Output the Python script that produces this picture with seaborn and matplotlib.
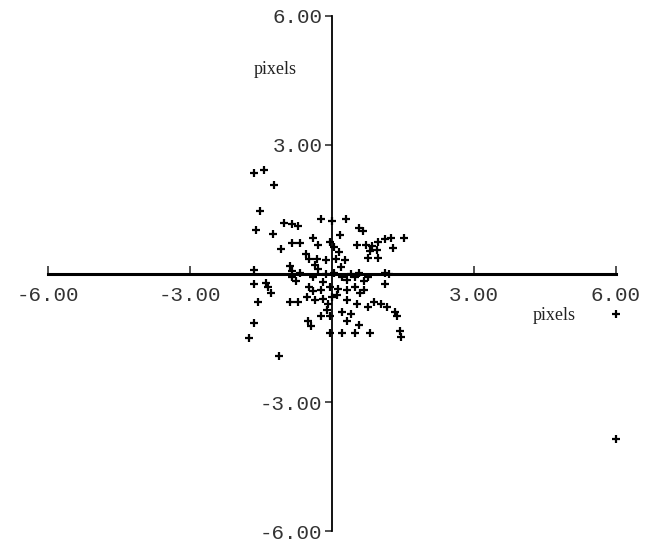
import matplotlib
matplotlib.use("Agg")
import matplotlib.pyplot as plt
import seaborn as sns
import pandas as pd

# offsets (pixels)
x_vals = [-1.65, -1.44, -1.23, -1.52, -1.61, -1.01, -0.85, -0.72, -1.25, -0.23,
          0.00, 0.30, 0.57, 0.66, 0.17, -1.08, -0.85, -0.68, -0.40, -0.30,
          -0.04, 0.04, 0.53, 0.72, 0.85, 0.97, 1.12, 1.25, 1.52, 0.80,
          0.95, 1.29, 0.76, 0.97, -0.49, -0.32, -0.13, 0.08, 0.27, -0.36,
          -0.89, -0.85, -1.65, -0.68, -0.40, -0.13, 0.04, 0.21, 0.40, 0.57,
          0.76, -0.85, -0.76, 0.32, 0.49, 0.68, 1.12, 1.21, 1.12, -1.65,
          -1.40, -1.35, -1.29, -1.56, -0.49, -0.40, -0.23, -0.04, 0.13, 0.32,
          0.49, 0.68, -0.53, -0.36, -0.19, 0.00, -0.08, -0.89, -0.72, 0.32,
          0.53, 0.76, 0.89, 1.04, 1.16, 1.33, 1.37, -0.23, -0.04, 0.21,
          0.40, -0.51, -0.44, 0.32, 0.57, 0.49, 0.80, -0.04, 0.21, 1.44,
          1.46, -1.65, -1.75, -1.12, 6.00, 6.00,
          -0.20, 0.10, -0.30, 0.15, -0.55, 0.60, -0.10, 0.20]
y_vals = [2.35, 2.42, 2.07, 1.45, 1.01, 1.18, 1.15, 1.11, 0.92, 1.27,
          1.22, 1.27, 1.06, 0.99, 0.90, 0.58, 0.71, 0.71, 0.83, 0.67,
          0.74, 0.62, 0.67, 0.67, 0.65, 0.74, 0.81, 0.83, 0.83, 0.53,
          0.55, 0.60, 0.37, 0.37, 0.35, 0.35, 0.32, 0.35, 0.32, 0.21,
          0.18, 0.05, 0.09, 0.02, -0.07, -0.02, 0.02, -0.07, -0.02, 0.02,
          -0.07, -0.09, -0.18, -0.14, -0.09, -0.18, 0.02, -0.02, -0.23, -0.23,
          -0.21, -0.30, -0.46, -0.65, -0.30, -0.41, -0.39, -0.30, -0.35, -0.39,
          -0.30, -0.39, -0.55, -0.62, -0.58, -0.55, -0.71, -0.67, -0.65, -0.62,
          -0.71, -0.78, -0.67, -0.71, -0.78, -0.90, -0.99, -0.99, -0.99, -0.90,
          -0.94, -1.11, -1.22, -1.11, -1.20, -1.38, -1.38, -1.38, -1.38, -1.34,
          -1.47, -1.15, -1.50, -1.91, -0.94, -3.85,
          -0.20, -0.50, 0.10, 0.50, 0.45, -0.45, -0.85, 0.15]

ticks = [-6, -3, 3, 6]
tick_labels = ["-6.00", "-3.00", "3.00", "6.00"]

df = pd.DataFrame({"x": x_vals, "y": y_vals})

sns.set_style("white")
fig = plt.figure(figsize=(6.63, 5.46), dpi=100)
ax = fig.add_axes([0.0724, 0.027, 0.8567, 0.9437])

sns.scatterplot(data=df, x="x", y="y", marker="+", color="black",
                s=28, linewidth=1.6, ax=ax, clip_on=False)

ax.set_xlim(-6, 6)
ax.set_ylim(-6, 6)

# crosshair axes through the origin
ax.spines["left"].set_position(("data", 0))
ax.spines["bottom"].set_position(("data", 0))
ax.spines["right"].set_visible(False)
ax.spines["top"].set_visible(False)
ax.spines["left"].set_linewidth(1.3)
ax.spines["bottom"].set_linewidth(2.2)
ax.spines["left"].set_color("black")
ax.spines["bottom"].set_color("black")

mono = "Liberation Mono"
ax.set_xticks(ticks)
ax.set_xticklabels(tick_labels, family=mono, fontsize=15, color="#333333")
ax.set_yticks(ticks)
ax.set_yticklabels(tick_labels, family=mono, fontsize=15, color="#333333")
ax.tick_params(axis="x", direction="in", length=6, width=1.2, pad=9,
               bottom=True, colors="#333333")
ax.tick_params(axis="y", direction="out", length=5, width=1.2, pad=2,
               left=True, colors="#333333")

ax.set_xlabel("")
ax.set_ylabel("")
ax.text(-1.2, 4.75, "pixels", family="Liberation Serif", fontsize=13,
        ha="center", va="center", color="#222222")
ax.text(4.7, -0.97, "pixels", family="Liberation Serif", fontsize=13,
        ha="center", va="center", color="#222222")

fig.savefig("out.png", dpi=100)
